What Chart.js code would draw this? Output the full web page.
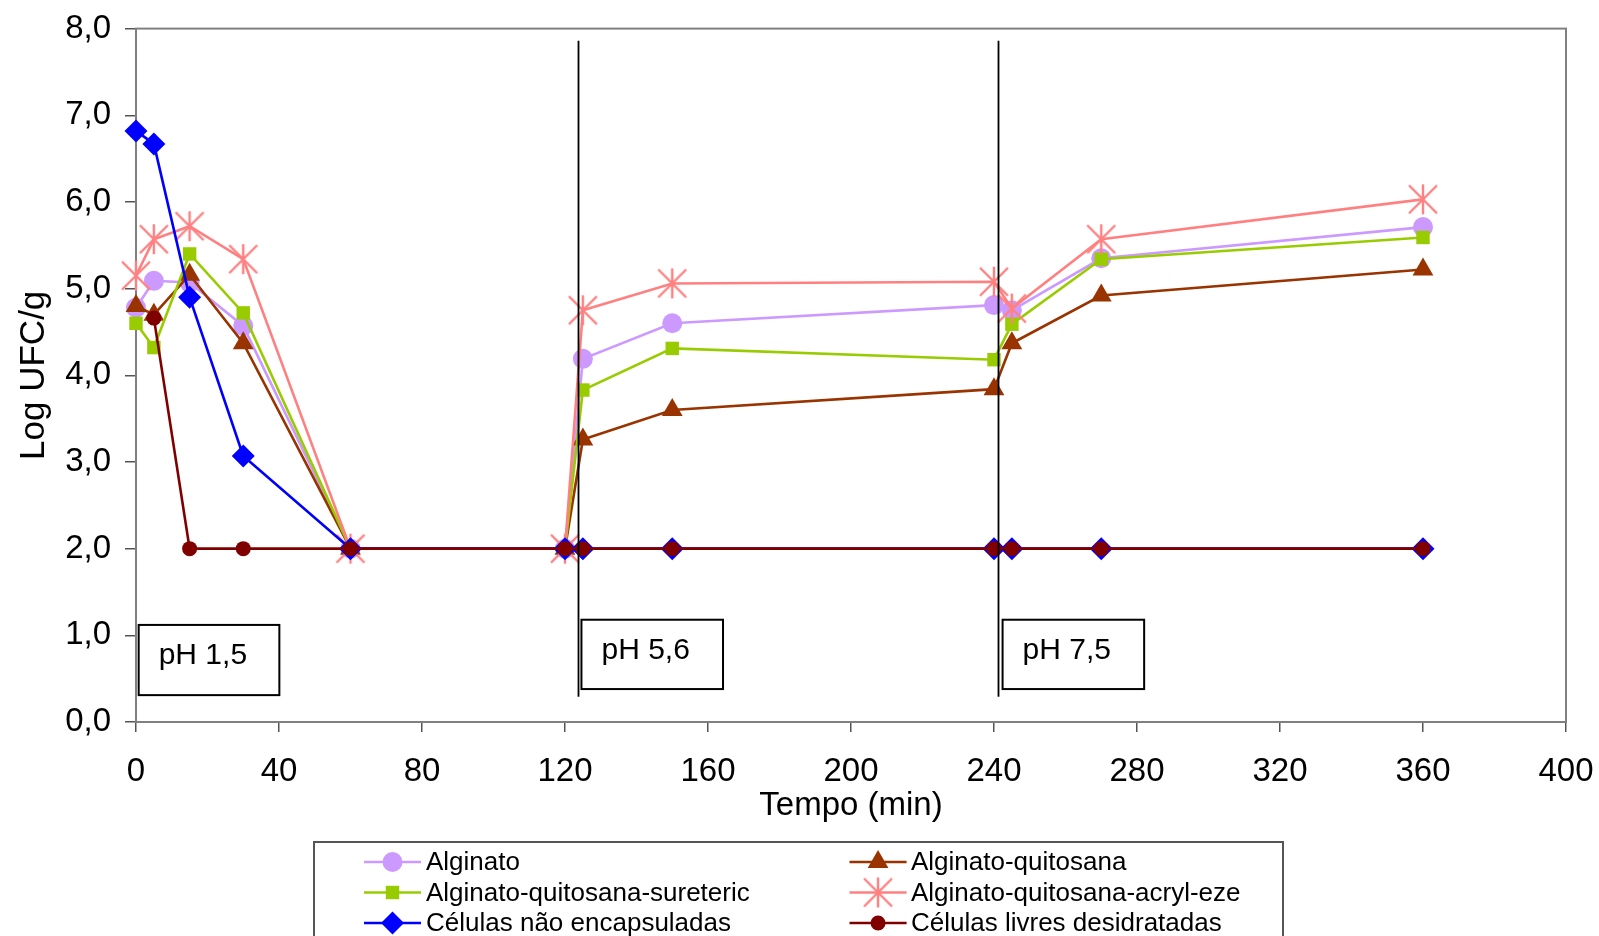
<!DOCTYPE html>
<html>
<head>
<meta charset="utf-8">
<script src="https://cdn.jsdelivr.net/npm/chart.js@4/dist/chart.umd.min.js"></script>
<style>
  html, body { margin: 0; padding: 0; background: #fff; }
  #wrap { width: 1599px; height: 936px; }
</style>
</head>
<body>
<div id="wrap"><canvas id="c" width="1599" height="936"></canvas></div>
<script>
// Sampling times (min)
const tempo = [0, 5, 15, 30, 60, 120, 125, 150, 240, 245, 270, 360];

// Log UFC/g for each formulation
const alginato          = [4.78, 5.09, 5.07, 4.57, 2.0, 2.0, 4.19, 4.60, 4.81, 4.75, 5.35, 5.71];
const alginatoQuitosana = [4.80, 4.70, 5.16, 4.37, 2.0, 2.0, 3.26, 3.60, 3.84, 4.37, 4.92, 5.22];
const sureteric         = [4.60, 4.32, 5.40, 4.72, 2.0, 2.0, 3.83, 4.31, 4.18, 4.59, 5.34, 5.59];
const acrylEze          = [5.15, 5.57, 5.72, 5.34, 2.0, 2.0, 4.75, 5.06, 5.08, 4.77, 5.57, 6.03];
const naoEncapsuladas   = [6.82, 6.67, 4.90, 3.07, 2.0, 2.0, 2.0, 2.0, 2.0, 2.0, 2.0, 2.0];
const livresDesidratadas = [null, 4.66, 2.0, 2.0, 2.0, 2.0, 2.0, 2.0, 2.0, 2.0, 2.0, 2.0];

const seriesNames = [
  'Alginato', 'Alginato-quitosana',
  'Alginato-quitosana-sureteric', 'Alginato-quitosana-acryl-eze',
  'Células não encapsuladas', 'Células livres desidratadas'
];

// Phase changes (min) and pH annotations
const phaseChanges = [123.5, 241.1];
const phLabels = ['pH 1,5', 'pH 5,6', 'pH 7,5'];

const yTicks = { min: 0, max: 8, step: 1 };
const xTicks = { min: 0, max: 400, step: 40 };

const FONT = 'Liberation Sans, Arial, Helvetica, sans-serif';

// Asterisk marker (X plus vertical stroke)
function makeStar(color) {
  const c = document.createElement('canvas');
  c.width = 32; c.height = 32;
  const g = c.getContext('2d');
  g.strokeStyle = color; g.lineWidth = 2.4; g.lineCap = 'butt';
  g.beginPath();
  g.moveTo(16, 1); g.lineTo(16, 31);
  g.moveTo(2, 2); g.lineTo(30, 30);
  g.moveTo(30, 2); g.lineTo(2, 30);
  g.stroke();
  return c;
}
const starImg = makeStar('#FF8080');

function pts(values) {
  return tempo.map((t, i) => ({ x: t, y: values[i] }));
}

const styles = [
  { color: '#CC99FF', pointStyle: 'circle',   radius: 10 },
  { color: '#993300', pointStyle: 'triangle', radius: 12 },
  { color: '#99CC00', pointStyle: 'rect',     radius: 9.5 },
  { color: '#FF8080', pointStyle: starImg,    radius: 16 },
  { color: '#0000FF', pointStyle: 'rectRot',  radius: 11.5 },
  { color: '#800000', pointStyle: 'circle',   radius: 7.5 }
];
const values = [alginato, alginatoQuitosana, sureteric, acrylEze, naoEncapsuladas, livresDesidratadas];

const datasets = values.map((v, i) => ({
  label: seriesNames[i],
  data: pts(v),
  borderColor: styles[i].color,
  backgroundColor: styles[i].color,
  borderWidth: 2.6,
  pointStyle: styles[i].pointStyle,
  pointRadius: styles[i].radius,
  pointBorderWidth: 0,
  pointBackgroundColor: styles[i].color,
  pointBorderColor: styles[i].color,
  tension: 0,
  spanGaps: false,
  clip: false,
  order: values.length - i
}));

// Plot frame, phase lines, pH boxes and legend
const decorations = {
  id: 'decorations',
  beforeDatasetsDraw(chart) {
    const { ctx, chartArea: a } = chart;
    ctx.save();
    ctx.strokeStyle = '#808080';
    ctx.lineWidth = 2;
    ctx.strokeRect(a.left, a.top, a.right - a.left, a.bottom - a.top);
    ctx.restore();
  },
  afterDatasetsDraw(chart) {
    const { ctx } = chart;
    const xs = chart.scales.x, ys = chart.scales.y;
    ctx.save();
    // phase boundaries
    ctx.strokeStyle = '#000';
    ctx.lineWidth = 1.8;
    phaseChanges.forEach(t => {
      const px = Math.round(xs.getPixelForValue(t)) + 0.5;
      ctx.beginPath();
      ctx.moveTo(px, ys.getPixelForValue(7.86));
      ctx.lineTo(px, ys.getPixelForValue(0.29));
      ctx.stroke();
    });
    // pH boxes
    const boxes = [
      { x0: 0.75,  x1: 40.1,  y0: 1.12, y1: 0.31 },
      { x0: 124.6, x1: 164.2, y0: 1.18, y1: 0.38 },
      { x0: 242.4, x1: 282.0, y0: 1.18, y1: 0.38 }
    ];
    ctx.font = '30px ' + FONT;
    ctx.textBaseline = 'alphabetic';
    ctx.textAlign = 'left';
    boxes.forEach((b, i) => {
      const l = xs.getPixelForValue(b.x0), r = xs.getPixelForValue(b.x1);
      const t = ys.getPixelForValue(b.y0), bt = ys.getPixelForValue(b.y1);
      ctx.fillStyle = '#fff';
      ctx.fillRect(l, t, r - l, bt - t);
      ctx.strokeStyle = '#000';
      ctx.lineWidth = 2;
      ctx.strokeRect(l, t, r - l, bt - t);
      ctx.fillStyle = '#000';
      ctx.fillText(phLabels[i], l + 20, t + 39);
    });
    ctx.restore();
  },
  afterDraw(chart) {
    const { ctx } = chart;
    ctx.save();
    // legend frame (runs past the bottom edge)
    ctx.strokeStyle = '#555';
    ctx.lineWidth = 2;
    ctx.strokeRect(314, 842, 1283 - 314, 120);
    const cols = [{ x0: 364, x1: 421, tx: 426 }, { x0: 849.5, x1: 906.6, tx: 911 }];
    const rows = [862, 892.5, 923];
    ctx.font = '26px ' + FONT;
    ctx.textBaseline = 'middle';
    ctx.textAlign = 'left';
    chart.data.datasets.forEach((ds, i) => {
      const col = cols[i % 2], y = rows[Math.floor(i / 2)];
      ctx.strokeStyle = ds.borderColor;
      ctx.fillStyle = ds.borderColor;
      ctx.lineWidth = 2.6;
      ctx.beginPath();
      ctx.moveTo(col.x0, y); ctx.lineTo(col.x1, y);
      ctx.stroke();
      Chart.helpers.drawPoint(ctx, {
        pointStyle: ds.pointStyle, radius: ds.pointRadius, rotation: 0, borderWidth: 0
      }, (col.x0 + col.x1) / 2, y);
      ctx.fillStyle = '#000';
      ctx.fillText(ds.label, col.tx, y + 1);
    });
    ctx.restore();
  }
};

const commaFmt = v => v.toFixed(1).replace('.', ',');

new Chart(document.getElementById('c'), {
  type: 'line',
  data: { datasets },
  plugins: [decorations],
  options: {
    responsive: false,
    animation: false,
    devicePixelRatio: 1,
    layout: { padding: { top: 28.6, right: 33, left: 0, bottom: 0 } },
    plugins: { legend: { display: false }, tooltip: { enabled: false } },
    scales: {
      x: {
        type: 'linear',
        min: xTicks.min, max: xTicks.max,
        ticks: {
          stepSize: xTicks.step, color: '#000', padding: 20, maxRotation: 0,
          font: { family: FONT, size: 33, lineHeight: 1.2 }
        },
        grid: { drawOnChartArea: false, drawTicks: true, tickLength: 10, color: '#555', lineWidth: 1.5 },
        border: { display: true, color: '#444', width: 2 },
        title: {
          display: true, text: 'Tempo (min)', color: '#000',
          font: { family: FONT, size: 33, lineHeight: 1.2 },
          padding: { top: 0, bottom: 110 }
        },
        afterFit(s) { s.height = 214; s.paddingLeft = 0; s.paddingRight = 0; }
      },
      y: {
        min: yTicks.min, max: yTicks.max,
        ticks: {
          stepSize: yTicks.step, color: '#000', padding: 14,
          font: { family: FONT, size: 33, lineHeight: 1.2 },
          callback: commaFmt
        },
        grid: { drawOnChartArea: false, drawTicks: true, tickLength: 11, color: '#555', lineWidth: 1.5 },
        border: { display: true, color: '#444', width: 2 },
        title: {
          display: true, text: 'Log UFC/g', color: '#000',
          font: { family: FONT, size: 35, lineHeight: 1.2 },
          padding: { top: 13, bottom: 0 }
        },
        afterFit(s) { s.width = 136; s.paddingTop = 0; s.paddingBottom = 0; }
      }
    }
  }
});
</script>
</body>
</html>
